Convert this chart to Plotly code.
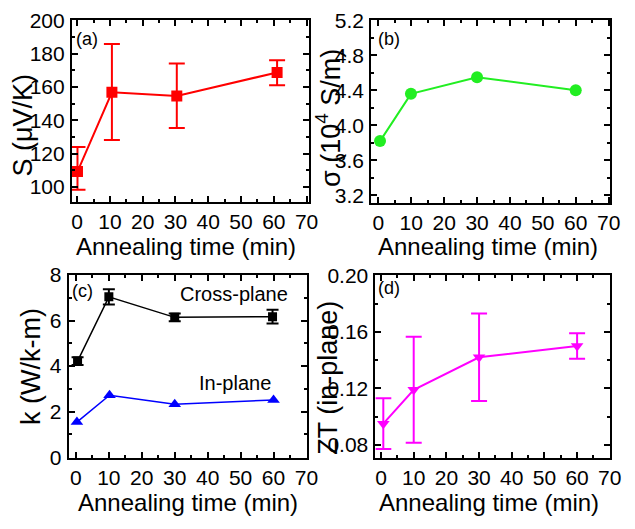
import plotly.graph_objects as go

# ---------------- data ----------------
S_time = [0.1, 10.6, 30.4, 61.0]
S_vals = [109.2, 156.8, 154.5, 168.7]
S_err_plus = [14.8, 29.0, 19.5, 7.3]
S_err_minus = [10.9, 28.6, 19.2, 7.7]

sigma_time = [0.5, 9.9, 30.0, 60.0]
sigma_vals = [3.82, 4.36, 4.55, 4.40]

k_cross_time = [0.5, 10.0, 30.0, 59.7]
k_cross = [4.22, 7.04, 6.14, 6.17]
k_cross_err = [0.17, 0.33, 0.17, 0.30]
k_in_time = [0.3, 10.2, 30.0, 60.0]
k_in = [1.54, 2.72, 2.32, 2.51]

ZT_time = [0.7, 10.0, 30.0, 60.0]
ZT_vals = [0.095, 0.119, 0.142, 0.150]
ZT_err = [0.018, 0.0375, 0.031, 0.009]

x_ticks = [0, 10, 20, 30, 40, 50, 60, 70]

FONT = "Liberation Sans, Arial, sans-serif"
W, H = 635, 529

def px_x(a, b):
    return [a / W, b / W]

def px_y(top, bottom):
    return [1 - bottom / H, 1 - top / H]

fig = go.Figure()

# (a) Seebeck
fig.add_trace(go.Scatter(
    x=S_time, y=S_vals, mode="lines+markers", xaxis="x", yaxis="y",
    line=dict(color="#ff0000", width=2),
    marker=dict(symbol="square", size=11, color="#ff0000"),
    error_y=dict(type="data", array=S_err_plus, arrayminus=S_err_minus,
                 color="#ff0000", thickness=2, width=8),
    showlegend=False))

# (b) conductivity
fig.add_trace(go.Scatter(
    x=sigma_time, y=sigma_vals, mode="lines+markers", xaxis="x2", yaxis="y2",
    line=dict(color="#22ee22", width=2),
    marker=dict(symbol="circle", size=12, color="#22ee22"),
    showlegend=False))

# (c) thermal conductivity
fig.add_trace(go.Scatter(
    x=k_cross_time, y=k_cross, mode="lines+markers", xaxis="x3", yaxis="y3",
    line=dict(color="black", width=1.5),
    marker=dict(symbol="square", size=9, color="black"),
    error_y=dict(type="data", array=k_cross_err, color="black", thickness=2, width=6),
    showlegend=False))
fig.add_trace(go.Scatter(
    x=k_in_time, y=k_in, mode="lines+markers", xaxis="x3", yaxis="y3",
    line=dict(color="#0000ff", width=1.5),
    marker=dict(symbol="triangle-up", size=11, color="#0000ff"),
    showlegend=False))

# (d) ZT
fig.add_trace(go.Scatter(
    x=ZT_time, y=ZT_vals, mode="lines+markers", xaxis="x4", yaxis="y4",
    line=dict(color="#ff00ff", width=2),
    marker=dict(symbol="triangle-down", size=11, color="#ff00ff"),
    error_y=dict(type="data", array=ZT_err, color="#ff00ff", thickness=2, width=8),
    showlegend=False))

def axis(domain, rng, anchor, minor_dtick, tickvals, standoff=0):
    return dict(domain=domain, range=rng, anchor=anchor,
                showline=True, linecolor="black", linewidth=2, mirror="allticks",
                ticks="inside", ticklen=6, tickwidth=1.5, tickcolor="black",
                showgrid=False, zeroline=False,
                tickfont=dict(family=FONT, size=21, color="black"),
                minor=dict(ticks="inside", ticklen=3, tickwidth=1.5, tickcolor="black",
                           dtick=minor_dtick, showgrid=False),
                ticklabelstandoff=standoff,
                tickmode="array", tickvals=tickvals)

layout_axes = dict(
    xaxis=axis(px_x(73.3, 315), [-1.6, 70.75], "y", 5, x_ticks, 0),
    yaxis=axis(px_y(9.3, 199.5), [90.8, 200.2], "x", 10, [100, 120, 140, 160, 180, 200], 1),
    xaxis2=axis(px_x(378.3, 621.7), [-2.2, 70.4], "y2", 5, x_ticks, 0),
    yaxis2=axis(px_y(9.3, 200), [3.116, 5.205], "x2", 0.2, [3.2, 3.6, 4.0, 4.4, 4.8, 5.2], 1),
    xaxis3=axis(px_x(70, 312.7), [-2.2, 70.1], "y3", 5, x_ticks, 0),
    yaxis3=axis(px_y(275, 466), [-0.02, 8.02], "x3", 1, [0, 2, 4, 6, 8], 1),
    xaxis4=axis(px_x(382.7, 621.7), [-1.7, 70.05], "y4", 5, x_ticks, 0),
    yaxis4=axis(px_y(275, 466.7), [0.0705, 0.2005], "x4", 0.02, [0.08, 0.12, 0.16, 0.20], 1),
)
layout_axes["yaxis2"]["tickformat"] = ".1f"
layout_axes["yaxis4"]["tickformat"] = ".2f"

def ann(text, x, y, size, angle=0):
    return dict(text=text, x=x / W, y=1 - y / H, xref="paper", yref="paper",
                xanchor="center", yanchor="middle", showarrow=False, textangle=angle,
                font=dict(family=FONT, size=size, color="black"))

annotations = [
    ann("S (μV/K)", 23, 119, 27, -90),
    ann("σ (10<sup>4</sup> S/m)", 335, 112, 27, -90),
    ann("k (W/k-m)", 31, 371, 27, -90),
    ann("ZT (in-plane)", 334, 383, 27, -90),
    ann("Annealing time (min)", 190, 246, 24),
    ann("Annealing time (min)", 497, 246, 24),
    ann("Annealing time (min)", 192, 513, 24),
    ann("Annealing time (min)", 498, 513, 24),
    ann("(a)", 89, 29, 18),
    ann("(b)", 397, 29, 18),
    ann("(c)", 84, 292, 18),
    ann("(d)", 397, 289, 18),
    ann("Cross-plane", 238, 295, 20),
    ann("In-plane", 240, 388, 20),
]

fig.update_layout(
    width=W, height=H,
    margin=dict(l=0, r=0, t=0, b=0),
    paper_bgcolor="white", plot_bgcolor="white",
    annotations=annotations,
    **layout_axes,
)

fig.write_html("out.html")
